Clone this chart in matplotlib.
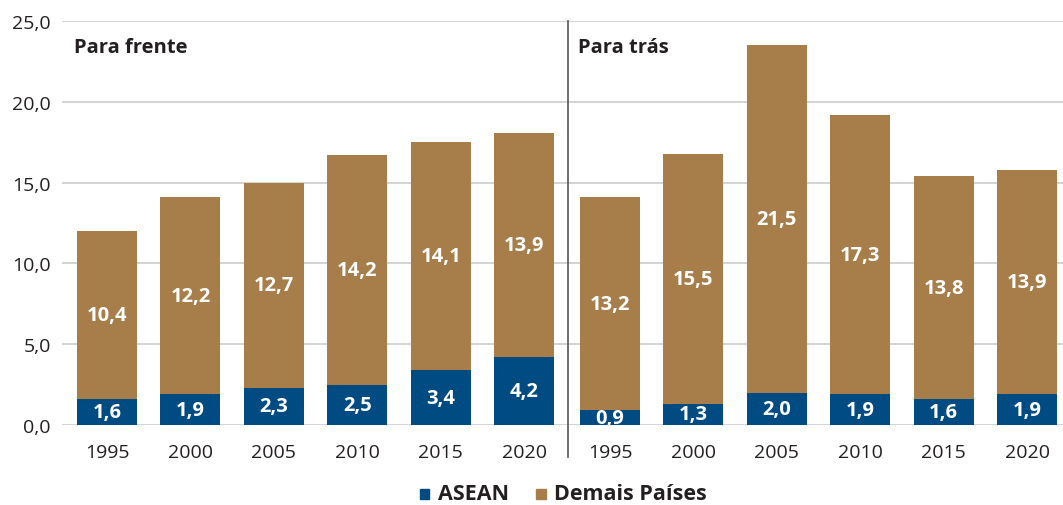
import numpy as np
import matplotlib.pyplot as plt
from matplotlib.patches import Patch

plt.rcParams['font.family'] = ['Open Sans', 'DejaVu Sans']

years = ["1995", "2000", "2005", "2010", "2015", "2020"]
frente_asean = [1.6, 1.9, 2.3, 2.5, 3.4, 4.2]
frente_demais = [10.4, 12.2, 12.7, 14.2, 14.1, 13.9]
tras_asean = [0.9, 1.3, 2.0, 1.9, 1.6, 1.9]
tras_demais = [13.2, 15.5, 21.5, 17.3, 13.8, 13.9]
yticks = [0, 5, 10, 15, 20, 25]

BLUE = "#004b82"
BROWN = "#a77d4a"
TEXT = "#231f20"


def fmt(v):
    return f"{v:.1f}".replace(".", ",")


fig = plt.figure(figsize=(10.63, 5.06), dpi=100)
ax = fig.add_axes([62 / 1063, 1 - 426 / 506, 1 - 62 / 1063, 404 / 506])

x1 = np.arange(len(years))
x2 = x1 + 6.03
w = 0.72

for xs, asean, demais in [(x1, frente_asean, frente_demais), (x2, tras_asean, tras_demais)]:
    ax.bar(xs, asean, w, color=BLUE, zorder=3)
    ax.bar(xs, demais, w, bottom=asean, color=BROWN, zorder=3)
    for x, a, d in zip(xs, asean, demais):
        ax.text(x, a / 2, fmt(a), ha="center", va="center", color="white",
                fontsize=14.5, fontweight="bold", zorder=4)
        ax.text(x, a + d / 2, fmt(d), ha="center", va="center", color="white",
                fontsize=14.5, fontweight="bold", zorder=4)

ax.set_xlim(-0.54, 11.46)
ax.set_ylim(0, 25)
ax.set_yticks(yticks)
ax.set_yticklabels([fmt(v) for v in yticks], fontsize=14, color=TEXT)
ax.set_xticks(np.concatenate([x1, x2]))
ax.set_xticklabels(years + years, fontsize=14, color=TEXT)
ax.tick_params(axis="both", length=0)
ax.tick_params(axis="x", pad=13)
ax.tick_params(axis="y", pad=8)
ax.grid(axis="y", color="#cccccc", linewidth=1.2, zorder=0)
for s in ax.spines.values():
    s.set_visible(False)

ax.axvline(5.52, ymin=-0.08, ymax=1, color="#555555", linewidth=1.2, clip_on=False, zorder=5)

ax.text(-0.4, 23.4, "Para frente", fontsize=14.5, fontweight="bold", color=TEXT, va="center")
ax.text(5.65, 23.4, "Para trás", fontsize=14.5, fontweight="bold", color=TEXT, va="center")

handles = [Patch(color=BLUE, label="ASEAN"), Patch(color=BROWN, label="Demais Países")]
leg = fig.legend(handles=handles, loc="lower center", bbox_to_anchor=(0.53, -0.022), ncol=2,
                 frameon=False, handlelength=0.7, handleheight=0.7, columnspacing=2.0,
                 handletextpad=0.6)
for t in leg.get_texts():
    t.set_fontsize(15.5)
    t.set_fontweight("bold")
    t.set_color(TEXT)

fig.savefig("out.png", dpi=100)
